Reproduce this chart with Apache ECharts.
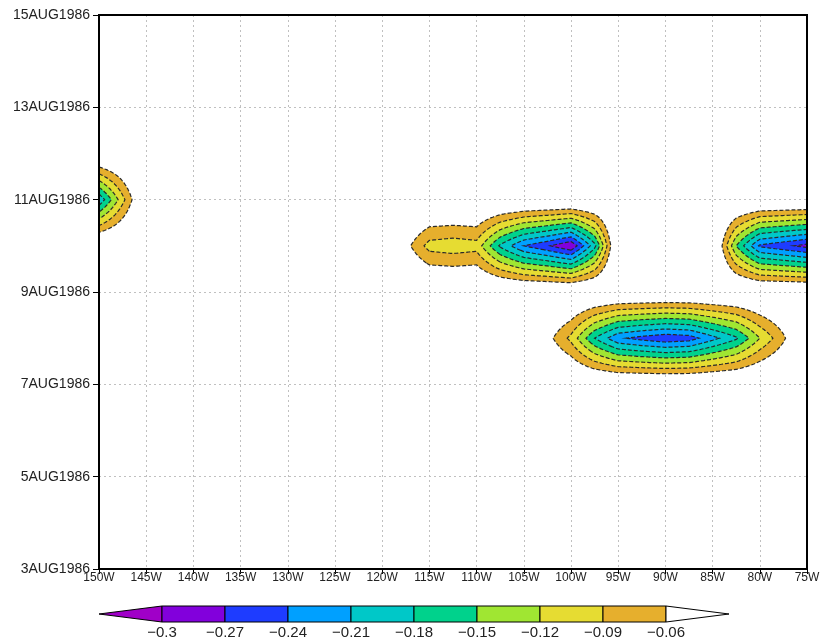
<!DOCTYPE html>
<html>
<head>
<meta charset="utf-8">
<script src="https://cdn.jsdelivr.net/npm/echarts@6/dist/echarts.min.js"></script>
<style>
html,body{margin:0;padding:0;background:#fff;}
#chart{width:825px;height:643px;}
</style>
</head>
<body>
<div id="chart"></div>
<script>
// ---------------- data ----------------
const lons = [-150,-147.5,-145,-142.5,-140,-137.5,-135,-132.5,-130,-127.5,-125,-122.5,-120,-117.5,-115,-112.5,-110,-107.5,-105,-102.5,-100,-97.5,-95,-92.5,-90,-87.5,-85,-82.5,-80,-77.5,-75];
const days = [3,4,5,6,7,8,9,10,11,12,13,14,15];
const monthLabel = 'AUG1986';

// field values along longitude for each day (others are calm / above -0.06)
const calm  = [0,0,0,0,0,0,0,0,0,0,0,0,0,0,0,0,0,0,0,0,0,0,0,0,0,0,0,0,0,0,0];
const aug8  = [0,0,0,0,0,0,0,0,0,0,0,0,0,0,0,0,0,0,0,-0.048,-0.098,-0.18,-0.235,-0.25,-0.262,-0.255,-0.22,-0.185,-0.12,-0.066,0];
const aug10 = [0,0,0,0,0,0,0,0,0,0,0,0,0,-0.049,-0.102,-0.108,-0.102,-0.185,-0.24,-0.266,-0.298,-0.19,0,0,0,0,0,-0.15,-0.245,-0.262,-0.28];
const aug11 = [-0.205,-0.10,0,0,0,0,0,0,0,0,0,0,0,0,0,0,0,0,0,0,0,0,0,0,0,0,0,0,0,0,0];

const shadeLevels = [-0.06,-0.09,-0.12,-0.15,-0.18,-0.21,-0.24,-0.27,-0.30];
const shadeColors = ['#e6af2d','#e6dc32','#a0e632','#00d28c','#00c8c8','#00a0ff','#1e3cff','#8200dc','#a000c8'];
const lineLevels  = [-0.06,-0.09,-0.12,-0.15,-0.18,-0.21,-0.24,-0.27];
const barColors   = ['#a000c8','#8200dc','#1e3cff','#00a0ff','#00c8c8','#00d28c','#a0e632','#e6dc32','#e6af2d','#ffffff'];
const barLabels   = ['\u22120.3','\u22120.27','\u22120.24','\u22120.21','\u22120.18','\u22120.15','\u22120.12','\u22120.09','\u22120.06'];

// ---------------- build ----------------
const rowsByDay = {8: aug8, 10: aug10, 11: aug11};
const field = days.map(d => rowsByDay[d] || calm);
const nodes = [];
field.forEach((row, r) => row.forEach((v, k) => nodes.push([lons[k], days[r] - days[0], v])));

const NX = 8, NY = 12;

function buildContours(api) {
  const nLon = lons.length, nDay = days.length;
  const FX = (nLon - 1) * NX, FY = (nDay - 1) * NY, W = FX + 1;
  const vals = new Float64Array(W * (FY + 1));
  const px = new Float64Array(W), py = new Float64Array(FY + 1);
  for (let i = 0; i <= FX; i++) {
    const ci = Math.min(Math.floor(i / NX), nLon - 2), u = (i - ci * NX) / NX;
    px[i] = api.coord([lons[ci] + (lons[ci + 1] - lons[ci]) * u, 0])[0];
  }
  for (let j = 0; j <= FY; j++) {
    const cj = Math.min(Math.floor(j / NY), nDay - 2), w = (j - cj * NY) / NY;
    py[j] = api.coord([lons[0], days[cj] - days[0] + (days[cj + 1] - days[cj]) * w])[1];
  }
  for (let j = 0; j <= FY; j++) {
    const cj = Math.min(Math.floor(j / NY), nDay - 2), w = (j - cj * NY) / NY;
    for (let i = 0; i <= FX; i++) {
      const ci = Math.min(Math.floor(i / NX), nLon - 2), u = (i - ci * NX) / NX;
      const a = field[cj][ci], b = field[cj][ci + 1], c = field[cj + 1][ci], d = field[cj + 1][ci + 1];
      vals[j * W + i] = (a * (1 - u) + b * u) * (1 - w) + (c * (1 - u) + d * u) * w;
    }
  }
  const X = id => px[id % W], Y = id => py[Math.floor(id / W)];
  const tris = [];
  for (let cj = 0; cj < nDay - 1; cj++) {
    for (let ci = 0; ci < nLon - 1; ci++) {
      const m = Math.min(field[cj][ci], field[cj][ci + 1], field[cj + 1][ci], field[cj + 1][ci + 1]);
      if (m >= shadeLevels[0]) continue;
      for (let j = cj * NY; j < (cj + 1) * NY; j++) {
        for (let i = ci * NX; i < (ci + 1) * NX; i++) {
          const a = j * W + i, b = a + 1, c = a + W + 1, d = a + W;
          tris.push(a, b, c, a, c, d);
        }
      }
    }
  }
  const children = [];
  const f2 = n => n.toFixed(2);
  shadeLevels.forEach((L, li) => {
    const parts = [];
    for (let t = 0; t < tris.length; t += 3) {
      const ids = [tris[t], tris[t + 1], tris[t + 2]];
      const v = [vals[ids[0]], vals[ids[1]], vals[ids[2]]];
      const bl = [v[0] < L, v[1] < L, v[2] < L];
      if (!bl[0] && !bl[1] && !bl[2]) continue;
      const poly = [];
      for (let e = 0; e < 3; e++) {
        const p = e, q = (e + 1) % 3;
        const xp = X(ids[p]), yp = Y(ids[p]);
        if (bl[p]) poly.push(xp, yp);
        if (bl[p] !== bl[q]) {
          const tt = (L - v[p]) / (v[q] - v[p]);
          poly.push(xp + (X(ids[q]) - xp) * tt, yp + (Y(ids[q]) - yp) * tt);
        }
      }
      let s = 'M' + f2(poly[0]) + ' ' + f2(poly[1]);
      for (let k = 2; k < poly.length; k += 2) s += 'L' + f2(poly[k]) + ' ' + f2(poly[k + 1]);
      parts.push(s + 'Z');
    }
    if (parts.length) {
      children.push({type: 'path', shape: {pathData: parts.join('')}, style: {fill: shadeColors[li], stroke: null}});
    }
  });
  lineLevels.forEach(L => {
    const pts = new Map(), segs = [];
    for (let t = 0; t < tris.length; t += 3) {
      const ids = [tris[t], tris[t + 1], tris[t + 2]];
      const keys = [];
      for (let e = 0; e < 3; e++) {
        const p = ids[e], q = ids[(e + 1) % 3];
        if ((vals[p] < L) !== (vals[q] < L)) {
          const A = Math.min(p, q), B = Math.max(p, q);
          const key = A * 1e6 + B;
          if (!pts.has(key)) {
            const tt = (L - vals[A]) / (vals[B] - vals[A]);
            pts.set(key, [X(A) + (X(B) - X(A)) * tt, Y(A) + (Y(B) - Y(A)) * tt]);
          }
          keys.push(key);
        }
      }
      if (keys.length === 2) segs.push(keys);
    }
    const adj = new Map();
    segs.forEach((s, k) => s.forEach(key => { if (!adj.has(key)) adj.set(key, []); adj.get(key).push(k); }));
    const used = new Uint8Array(segs.length);
    const walk = (start) => {
      const out = [];
      let cur = start;
      for (;;) {
        const list = adj.get(cur);
        let nx = -1;
        for (const m of list) if (!used[m]) { nx = m; break; }
        if (nx < 0) break;
        used[nx] = 1;
        const s = segs[nx];
        cur = s[0] === cur ? s[1] : s[0];
        out.push(cur);
      }
      return out;
    };
    for (let k = 0; k < segs.length; k++) {
      if (used[k]) continue;
      used[k] = 1;
      const fwd = walk(segs[k][1]);
      const back = walk(segs[k][0]);
      const chain = back.reverse().concat([segs[k][0], segs[k][1]], fwd);
      children.push({
        type: 'polyline',
        shape: {points: chain.map(key => pts.get(key))},
        style: {stroke: '#2a2a2a', lineWidth: 1.2, lineDash: [4, 2], fill: null}
      });
    }
  });
  return {type: 'group', children};
}

const font = 'Liberation Sans, Arial, sans-serif';
const chart = echarts.init(document.getElementById('chart'), null, {renderer: 'canvas'});
const dottedGrid = {show: true, lineStyle: {type: [2, 3], color: '#c0c0c0', width: 1}};
chart.setOption({
  animation: false,
  backgroundColor: '#ffffff',
  grid: {left: 99, right: 18, top: 15, bottom: 74, containLabel: false},
  xAxis: {
    type: 'value', min: lons[0], max: lons[lons.length - 1], interval: 5,
    axisLine: {show: true, lineStyle: {color: '#000', width: 2}},
    axisTick: {show: true, length: 5, lineStyle: {color: '#000', width: 1}},
    axisLabel: {margin: 3, fontSize: 12, color: '#222', fontFamily: font, showMinLabel: true, showMaxLabel: true,
      formatter: v => Math.abs(v) + 'W'},
    splitLine: dottedGrid
  },
  yAxis: {
    type: 'value', min: 0, max: days[days.length - 1] - days[0], interval: 2,
    axisLine: {show: true, lineStyle: {color: '#000', width: 2}},
    axisTick: {show: true, length: 6, lineStyle: {color: '#000', width: 1}},
    axisLabel: {margin: 9, fontSize: 14, color: '#222', fontFamily: font, showMinLabel: true, showMaxLabel: true,
      formatter: v => (days[0] + v) + monthLabel},
    splitLine: dottedGrid
  },
  series: [{
    type: 'custom',
    coordinateSystem: 'cartesian2d',
    data: nodes,
    encode: {x: 0, y: 1},
    clip: true,
    silent: true,
    progressive: 0,
    renderItem: (params, api) => params.dataIndex === 0 ? buildContours(api) : null
  }]
});

// frame and colour bar
const tl = chart.convertToPixel({gridIndex: 0}, [lons[0], days[days.length - 1] - days[0]]);
const br = chart.convertToPixel({gridIndex: 0}, [lons[lons.length - 1], 0]);
const graphics = [{
  type: 'rect', z: 100, silent: true,
  shape: {x: tl[0], y: tl[1], width: br[0] - tl[0], height: br[1] - tl[1]},
  style: {fill: null, stroke: '#000', lineWidth: 2}
}];
const barW = 63, barX0 = 162, barY = 606, barH = 16;
const nBox = barLabels.length - 1;
graphics.push({type: 'polygon', z: 100, silent: true,
  shape: {points: [[barX0 - barW, barY + barH / 2], [barX0, barY], [barX0, barY + barH]]},
  style: {fill: barColors[0], stroke: '#000', lineWidth: 1}});
for (let k = 0; k < nBox; k++) {
  graphics.push({type: 'rect', z: 100, silent: true,
    shape: {x: barX0 + k * barW, y: barY, width: barW, height: barH},
    style: {fill: barColors[k + 1], stroke: '#000', lineWidth: 1}});
}
const xr = barX0 + nBox * barW;
graphics.push({type: 'polygon', z: 100, silent: true,
  shape: {points: [[xr, barY], [xr + barW, barY + barH / 2], [xr, barY + barH]]},
  style: {fill: barColors[barColors.length - 1], stroke: '#000', lineWidth: 1}});
barLabels.forEach((t, k) => {
  graphics.push({type: 'text', z: 100, silent: true,
    style: {text: t, x: barX0 + k * barW, y: barY + barH + 3, align: 'center', verticalAlign: 'top',
      fontSize: 15, fontFamily: font, fill: '#222'}});
});
chart.setOption({graphic: graphics});
</script>
</body>
</html>
